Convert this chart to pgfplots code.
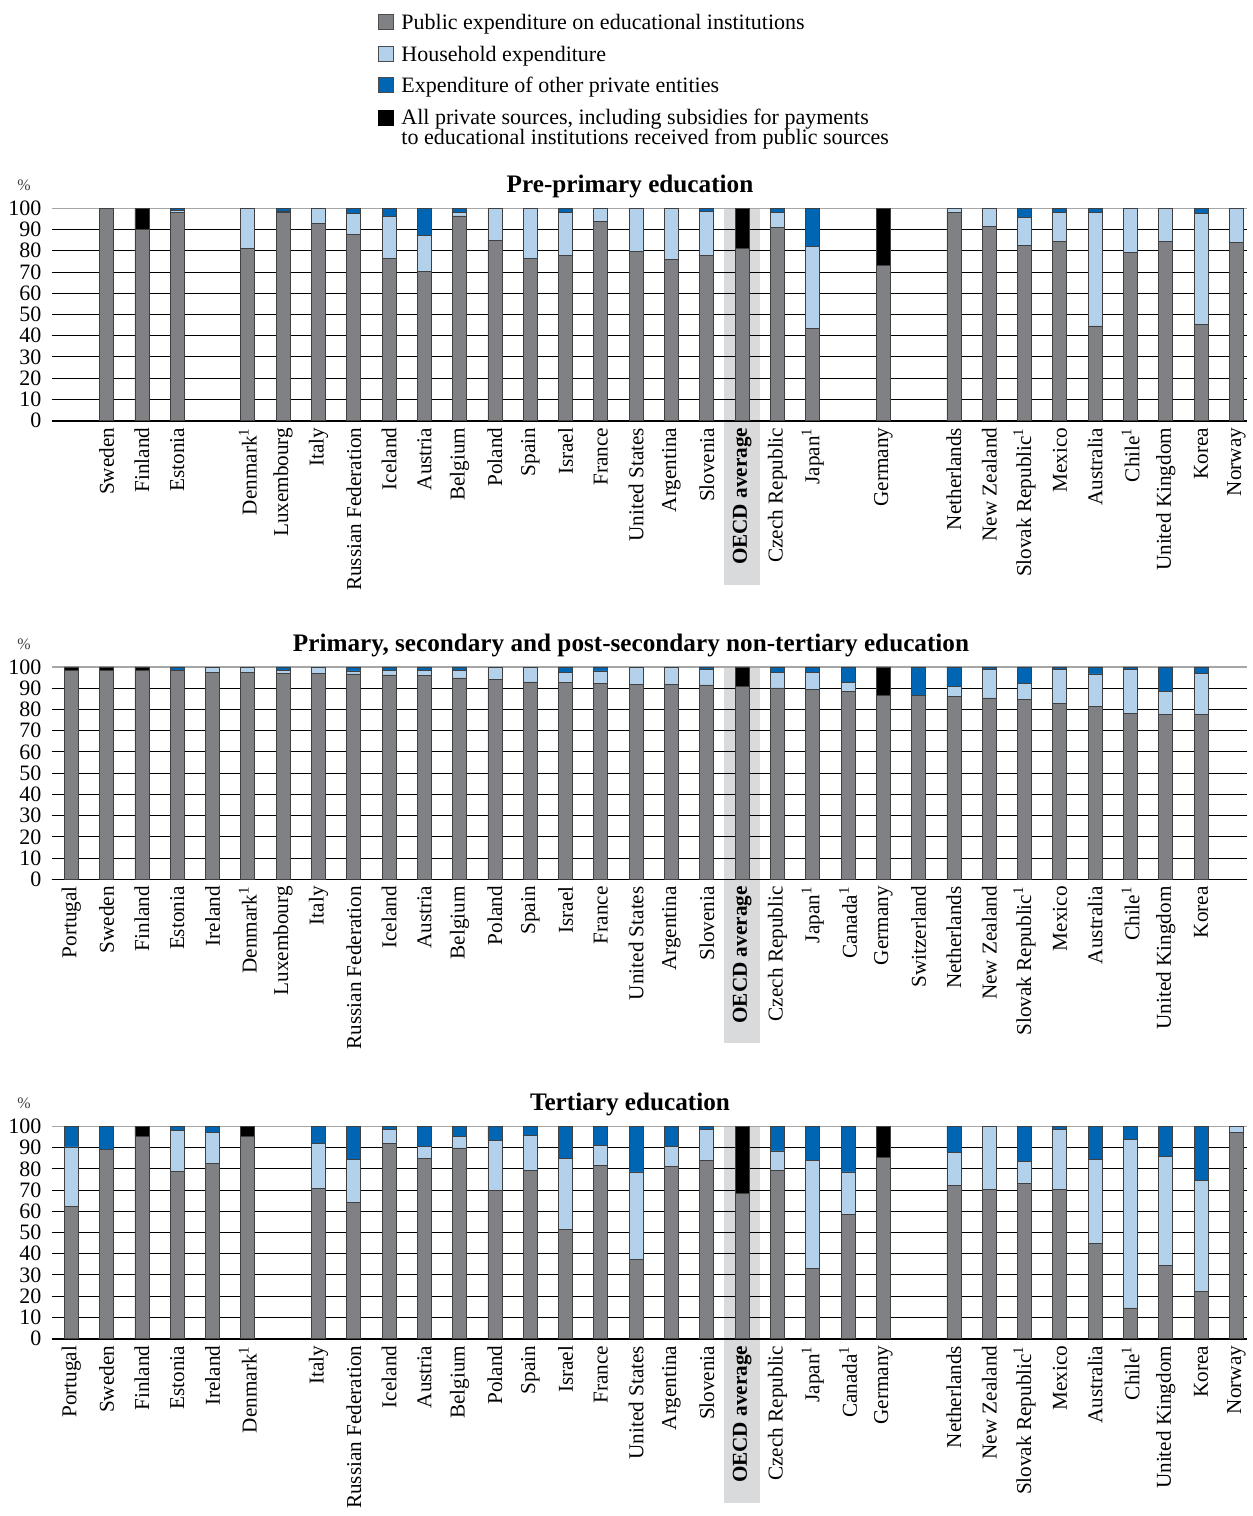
\documentclass[border=0pt]{standalone}
\usepackage{fontspec}
\setmainfont{Liberation Serif}
\usepackage{pgfplots}
\usepackage{pgfplotstable}
\pgfplotsset{compat=1.18}
\definecolor{pubgray}{HTML}{808184}
\definecolor{hhblue}{HTML}{B3D1EA}
\definecolor{othblue}{HTML}{0066B3}
\definecolor{bandgray}{HTML}{D9DADB}

\pgfplotstableread{
x pub hh oth allp
1 100 0 0 0
2 90 0 0 10
3 98 1 1 0
5 81 19 0 0
6 98 0.5 1.5 0
7 93 7 0 0
8 87.5 10 2.5 0
9 76.3 19.8 3.9 0
10 70.2 17.1 12.7 0
11 96.4 1.6 2 0
12 85 15 0 0
13 76.5 23.5 0 0
14 77.9 20.1 2 0
15 94 6 0 0
16 79.9 20.1 0 0
17 76.1 23.9 0 0
18 77.6 20.8 1.6 0
19 81.2 0 0 18.8
20 91 7.1 1.9 0
21 43.5 38.6 17.9 0
23 73 0 0 27
25 98.1 1.9 0 0
26 91.5 8.5 0 0
27 82.7 13.1 4.2 0
28 84.3 13.8 1.9 0
29 44.6 53.5 1.9 0
30 79.4 20.6 0 0
31 84.6 15.4 0 0
32 45.5 52 2.5 0
33 84 16 0 0
}\preprim

\pgfplotstableread{
x pub hh oth allp
0 98.4 0 0 1.6
1 98.4 0 0 1.6
2 98.4 0 0 1.6
3 98.4 0 1.6 0
4 97.5 2.5 0 0
5 97.5 2.5 0 0
6 97 1.4 1.6 0
7 96.8 3.2 0 0
8 96.7 1.4 1.9 0
9 96.2 2.2 1.6 0
10 95.8 2.6 1.6 0
11 94.8 3.6 1.6 0
12 94.3 5.7 0 0
13 92.9 7.1 0 0
14 92.8 4.7 2.5 0
15 92.1 6 1.9 0
16 91.7 8.3 0 0
17 91.7 8.3 0 0
18 91.5 7.1 1.4 0
19 90.6 0 0 9.4
20 90.1 7.5 2.4 0
21 89.6 7.6 2.8 0
22 88.4 4.1 7.5 0
23 86.6 0 0 13.4
24 86.6 0 13.4 0
25 86.3 4.7 9 0
26 85.4 13.2 1.4 0
27 84.6 7.7 7.7 0
28 82.7 15.9 1.4 0
29 81.4 15.3 3.3 0
30 78.1 20.5 1.4 0
31 77.7 10.7 11.6 0
32 77.5 19.5 3 0
}\secondary

\pgfplotstableread{
x pub hh oth allp
0 62.1 28.2 9.7 0
1 89 0 11 0
2 95.3 0 0 4.7
3 78.9 19.2 1.9 0
4 82.5 14.8 2.7 0
5 95.3 0 0 4.7
7 70.6 21.5 7.9 0
8 64.3 20.1 15.6 0
9 92.1 6.6 1.3 0
10 84.7 5.7 9.6 0
11 89.8 5.5 4.7 0
12 69.7 23.5 6.8 0
13 79.1 16.7 4.2 0
14 51.3 33.6 15.1 0
15 81.6 9.4 9 0
16 37.3 41.2 21.5 0
17 81 9.6 9.4 0
18 83.8 14.9 1.3 0
19 68.6 0 0 31.4
20 79.1 9.3 11.6 0
21 33.2 50.6 16.2 0
22 58.6 19.9 21.5 0
23 85.2 0 0 14.8
25 72.3 15.4 12.3 0
26 70.3 29.7 0 0
27 73 10.6 16.4 0
28 70.1 28.6 1.3 0
29 44.7 39.7 15.6 0
30 14.5 79.4 6.1 0
31 34.4 51.6 14 0
32 22.2 52.3 25.5 0
33 97 3 0 0
}\tertiary

\pgfplotsset{panel/.style={
  anchor=south west, width=597.65pt, height=106.2pt, scale only axis,
  xmin=-0.555, xmax=33.3, ymin=0, ymax=100,
  ybar stacked, bar width=7pt,
  axis x line*=bottom, axis y line*=left,
  y axis line style={draw=none},
  x axis line style={-, line width=0.8pt, black},
  ytick={0,10,...,90}, extra y ticks={100},
  extra y tick style={grid style={black!35, line width=0.6pt}},
  ymajorgrids, grid style={black, line width=0.5pt},
  major tick length=0pt,
  xtick={0,...,33},
  tick label style={font=\fontsize{11}{13}\selectfont},
  xticklabel style={rotate=90, anchor=east, font=\fontsize{10.6}{12}\selectfont},
  yticklabel style={anchor=east, inner sep=0pt, xshift=-5pt},
  /pgf/number format/assume math mode=true,
  clip=false,
  every axis plot/.append style={draw=black!75, line width=0.4pt},
}}

\newcommand{\bars}[1]{%
  \addplot[fill=pubgray] table[x=x, y=pub]{#1};
  \addplot[fill=hhblue] table[x=x, y=hh]{#1};
  \addplot[fill=othblue] table[x=x, y=oth]{#1};
  \addplot[fill=black] table[x=x, y=allp]{#1};
}

\begin{document}
\begin{tikzpicture}
\path (0,0) rectangle (623.5pt,-758pt);

% OECD average highlight bands (behind everything)
\fill[bandgray] (362.2pt,-104.15pt) rectangle (379.9pt,-292.35pt);
\fill[bandgray] (362.2pt,-333.45pt) rectangle (379.9pt,-521.65pt);
\fill[bandgray] (362.2pt,-563.15pt) rectangle (379.9pt,-751.35pt);

% legend
\begin{scope}[every node/.style={anchor=base west, inner sep=0pt, font=\fontsize{11}{13}\selectfont}]
\filldraw[fill=pubgray, draw=black!70, line width=0.4pt] (189pt,-7pt) rectangle (196.5pt,-14.5pt);
\node at (200.5pt,-14.5pt) {Public expenditure on educational institutions};
\filldraw[fill=hhblue, draw=black!70, line width=0.4pt] (189pt,-23.3pt) rectangle (196.5pt,-30.8pt);
\node at (200.5pt,-30.5pt) {Household expenditure};
\filldraw[fill=othblue, draw=black!70, line width=0.4pt] (189pt,-38.6pt) rectangle (196.5pt,-46.1pt);
\node at (200.5pt,-46pt) {Expenditure of other private entities};
\filldraw[fill=black, draw=black, line width=0.4pt] (189pt,-55pt) rectangle (196.5pt,-62.5pt);
\node at (200.5pt,-62pt) {All private sources, including subsidies for payments};
\node at (200.5pt,-72.3pt) {to educational institutions received from public sources};
\end{scope}

% titles
\node[anchor=base, inner sep=0pt, font=\fontsize{12.6}{14}\selectfont\bfseries] at (315pt,-96pt) {Pre-primary education};
\node[anchor=base, inner sep=0pt, font=\fontsize{12.6}{14}\selectfont\bfseries] at (315.5pt,-325.5pt) {Primary, secondary and post-secondary non-tertiary education};
\node[anchor=base, inner sep=0pt, font=\fontsize{12.6}{14}\selectfont\bfseries] at (315pt,-555pt) {Tertiary education};
\node[anchor=base, inner sep=0pt, font=\fontsize{8}{9}\selectfont, text=black!75] at (12pt,-95pt) {\%};
\node[anchor=base, inner sep=0pt, font=\fontsize{8}{9}\selectfont, text=black!75] at (12pt,-324.5pt) {\%};
\node[anchor=base, inner sep=0pt, font=\fontsize{8}{9}\selectfont, text=black!75] at (12pt,-554pt) {\%};

\begin{axis}[panel, at={(25.85pt,-210.35pt)},
  xticklabels={{}, Sweden, Finland, Estonia, {}, Denmark\textsuperscript{1}, Luxembourg, Italy, Russian Federation, Iceland, Austria, Belgium, Poland, Spain, Israel, France, United States, Argentina, Slovenia, \textbf{OECD average}, Czech Republic, Japan\textsuperscript{1}, {}, Germany, {}, Netherlands, New Zealand, Slovak Republic\textsuperscript{1}, Mexico, Australia, Chile\textsuperscript{1}, United Kingdom, Korea, Norway}]
\bars{\preprim}
\end{axis}

\begin{axis}[panel, at={(25.85pt,-439.65pt)},
  xticklabels={Portugal, Sweden, Finland, Estonia, Ireland, Denmark\textsuperscript{1}, Luxembourg, Italy, Russian Federation, Iceland, Austria, Belgium, Poland, Spain, Israel, France, United States, Argentina, Slovenia, \textbf{OECD average}, Czech Republic, Japan\textsuperscript{1}, Canada\textsuperscript{1}, Germany, Switzerland, Netherlands, New Zealand, Slovak Republic\textsuperscript{1}, Mexico, Australia, Chile\textsuperscript{1}, United Kingdom, Korea, {}}]
\bars{\secondary}
\end{axis}

\begin{axis}[panel, at={(25.85pt,-669.35pt)},
  xticklabels={Portugal, Sweden, Finland, Estonia, Ireland, Denmark\textsuperscript{1}, {}, Italy, Russian Federation, Iceland, Austria, Belgium, Poland, Spain, Israel, France, United States, Argentina, Slovenia, \textbf{OECD average}, Czech Republic, Japan\textsuperscript{1}, Canada\textsuperscript{1}, Germany, {}, Netherlands, New Zealand, Slovak Republic\textsuperscript{1}, Mexico, Australia, Chile\textsuperscript{1}, United Kingdom, Korea, Norway}]
\bars{\tertiary}
\end{axis}
\end{tikzpicture}
\end{document}
